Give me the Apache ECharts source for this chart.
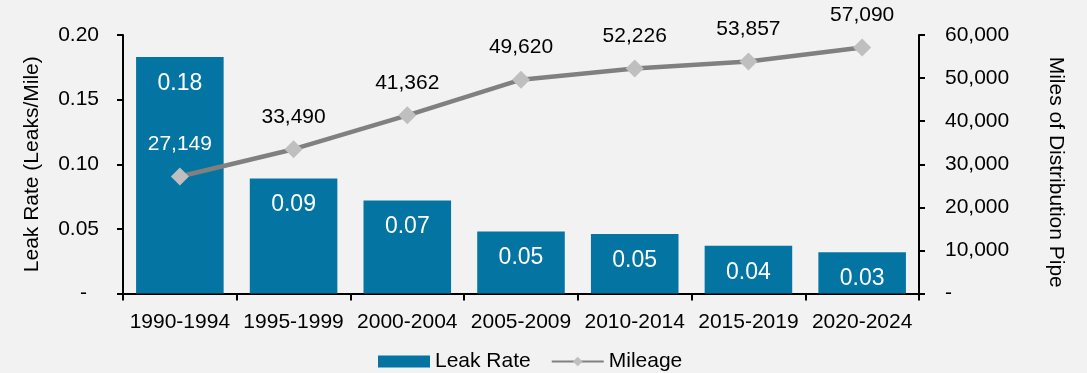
<!DOCTYPE html>
<html>
<head>
<meta charset="utf-8">
<script src="https://cdn.jsdelivr.net/npm/echarts@6/dist/echarts.min.js"></script>
<style>
  html, body { margin: 0; padding: 0; background: #f2f2f2; }
  #chart { width: 1087px; height: 373px; }
</style>
</head>
<body>
<div id="chart"></div>
<script>
// Five-year periods
const periods = ['1990-1994', '1995-1999', '2000-2004', '2005-2009', '2010-2014', '2015-2019', '2020-2024'];
// Leaks per mile of distribution pipe
const leakRate = [0.183, 0.089, 0.072, 0.048, 0.046, 0.037, 0.032];
// Miles of distribution pipe
const mileage = [27149, 33490, 41362, 49620, 52226, 53857, 57090];
// Axis scales
const leakTicks = { min: 0, max: 0.2, interval: 0.05 };
const mileTicks = { min: 0, max: 60000, interval: 10000 };

const FONT = '"Liberation Sans", Arial, sans-serif';
const BAR = '#0474a3';
const FS = 21;

const fmtComma = v => Math.round(v).toString().replace(/\B(?=(\d{3})+(?!\d))/g, ',');

const chart = echarts.init(document.getElementById('chart'), null, { renderer: 'canvas' });

chart.setOption({
  backgroundColor: '#f2f2f2',
  animation: false,
  textStyle: { fontFamily: FONT },
  grid: { left: 123, right: 168, top: 35, bottom: 79.5, containLabel: false },
  legend: {
    left: 373,
    top: 346,
    itemWidth: 52,
    itemHeight: 12,
    itemGap: 20,
    textStyle: { fontFamily: FONT, fontSize: FS, color: '#000' },
    data: [
      { name: 'Leak Rate', icon: 'rect' },
      { name: 'Mileage' }
    ]
  },
  xAxis: {
    type: 'category',
    data: periods,
    boundaryGap: true,
    axisLine: { lineStyle: { color: '#000', width: 2 } },
    axisTick: { show: true, alignWithLabel: false, length: 7, lineStyle: { color: '#000', width: 2 } },
    axisLabel: { color: '#000', fontSize: FS, fontFamily: FONT, margin: 18, interval: 0 },
    splitLine: { show: false }
  },
  yAxis: [
    {
      type: 'value',
      min: leakTicks.min, max: leakTicks.max, interval: leakTicks.interval,
      name: 'Leak Rate (Leaks/Mile)',
      nameLocation: 'middle',
      nameRotate: 90,
      nameGap: 80,
      nameTextStyle: { color: '#000', fontSize: FS, fontFamily: FONT },
      axisLine: { show: true, lineStyle: { color: '#000', width: 2 } },
      axisTick: { show: true, length: 6, lineStyle: { color: '#000', width: 2 } },
      axisLabel: {
        color: '#000', fontSize: FS, fontFamily: FONT, margin: 24,
        formatter: v => v === 0 ? '{z|-}' : v.toFixed(2),
        rich: { z: { fontSize: FS, fontFamily: FONT, color: '#000', padding: [0, 12, 0, 0] } }
      },
      splitLine: { show: false }
    },
    {
      type: 'value',
      position: 'right',
      min: mileTicks.min, max: mileTicks.max, interval: mileTicks.interval,
      name: 'Miles of Distribution Pipe',
      nameLocation: 'middle',
      nameRotate: -90,
      nameGap: 126,
      nameTextStyle: { color: '#000', fontSize: FS, fontFamily: FONT, padding: [0, 0, 0, 16] },
      axisLine: { show: true, lineStyle: { color: '#000', width: 2 } },
      axisTick: { show: true, length: 6, lineStyle: { color: '#000', width: 2 } },
      axisLabel: {
        color: '#000', fontSize: FS, fontFamily: FONT, margin: 26,
        formatter: v => v === 0 ? '-' : fmtComma(v)
      },
      splitLine: { show: false }
    }
  ],
  series: [
    {
      name: 'Leak Rate',
      type: 'bar',
      yAxisIndex: 0,
      data: leakRate,
      barCategoryGap: '23%',
      itemStyle: { color: BAR },
      label: {
        show: true,
        position: 'insideTop',
        distance: 15,
        color: '#fff',
        fontSize: 23,
        fontFamily: FONT,
        formatter: p => p.value.toFixed(2)
      },
      z: 2
    },
    {
      name: 'Mileage',
      type: 'line',
      yAxisIndex: 1,
      data: mileage.map((v, i) => i === 0
        ? { value: v, label: { color: '#fff' } }
        : v),
      symbol: 'diamond',
      symbolSize: 18,
      lineStyle: { color: '#808080', width: 4.5 },
      itemStyle: { color: '#bfbfbf' },
      label: {
        show: true,
        position: 'top',
        distance: 13,
        color: '#000',
        fontSize: FS,
        fontFamily: FONT,
        formatter: p => fmtComma(p.value)
      },
      z: 5
    }
  ]
});
</script>
</body>
</html>
